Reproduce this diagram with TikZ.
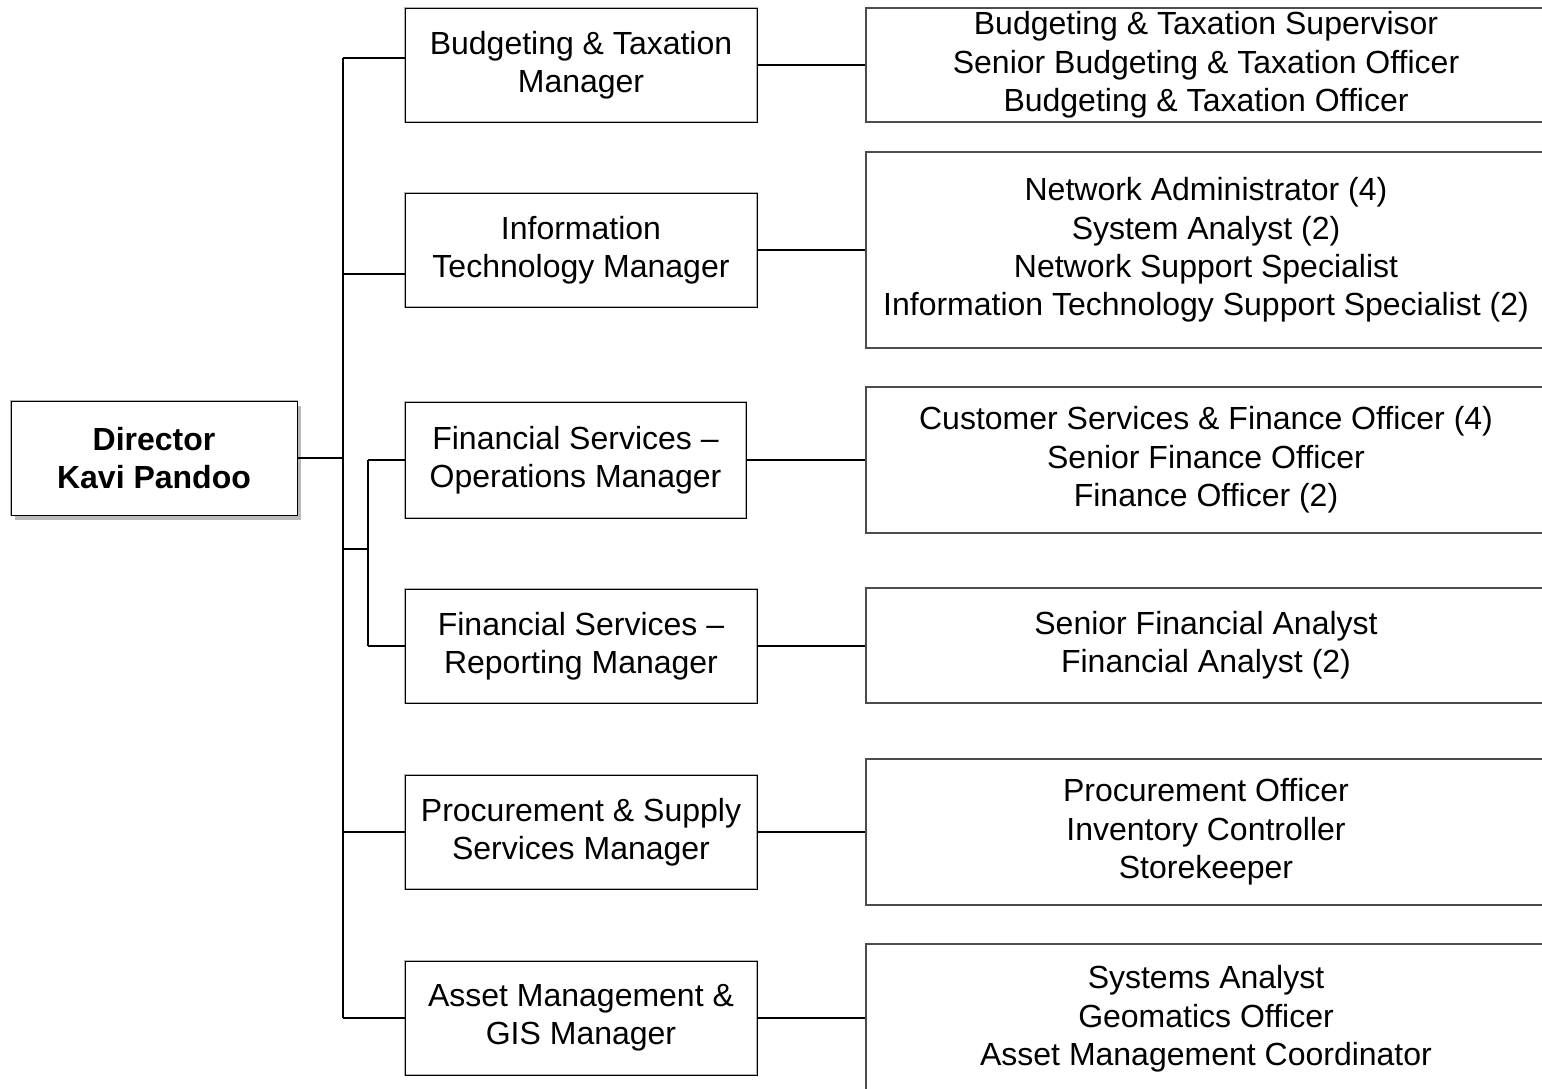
\documentclass[tikz,border=0pt]{standalone}
\usepackage{fontspec}
\setmainfont{Liberation Sans}
\usetikzlibrary{shadows}
\begin{document}
\begin{tikzpicture}[x=1pt,y=-1pt,
  every node/.style={font=\fontsize{32}{38.4}\selectfont, align=center, inner sep=0pt},
  mgr/.style={rectangle, minimum height=114pt,
    preaction={draw=gray!60, line width=2.6pt}, draw=black, line width=0.9pt},
  staff/.style={rectangle, draw=gray!60!black, line width=1.6pt,
    minimum width=680pt},
  boss/.style={rectangle, minimum width=286pt, minimum height=114pt, fill=white,
    preaction={draw=gray!60, line width=2.6pt}, draw=black, line width=0.9pt,
    drop shadow={shadow xshift=4pt, shadow yshift=-5pt, fill=black!60, opacity=0.45}},
  link/.style={draw=black, line width=1.3pt}]
\useasboundingbox (0,0) rectangle (1542,1088);
\clip (0,0) rectangle (1542,1088);

% director
\node[boss, font=\fontsize{32}{38.4}\selectfont\bfseries] (dir) at (154,458) {Director\\Kavi Pandoo};

% managers
\node[mgr, minimum width=352pt] (m1) at (581,65)  {Budgeting \& Taxation\\Manager};
\node[mgr, minimum width=352pt] (m2) at (581,250) {Information\\Technology Manager};
\node[mgr, minimum width=341pt, minimum height=116pt] (m3) at (575.5,460) {Financial Services --\\Operations Manager};
\node[mgr, minimum width=352pt] (m4) at (581,646) {Financial Services --\\Reporting Manager};
\node[mgr, minimum width=352pt] (m5) at (581,832) {Procurement \& Supply\\Services Manager};
\node[mgr, minimum width=352pt] (m6) at (581,1018) {Asset Management \&\\GIS Manager};

% staff lists
\node[staff, minimum height=114pt] (s1) at (1206,65) {Budgeting \& Taxation Supervisor\\Senior Budgeting \& Taxation Officer\\Budgeting \& Taxation Officer};
\node[staff, minimum height=196pt] (s2) at (1206,250) {Network Administrator (4)\\System Analyst (2)\\Network Support Specialist\\Information Technology Support Specialist (2)};
\node[staff, minimum height=146pt] (s3) at (1206,460) {Customer Services \& Finance Officer (4)\\Senior Finance Officer\\Finance Officer (2)};
\node[staff, minimum height=115pt] (s4) at (1206,645.5) {Senior Financial Analyst\\Financial Analyst (2)};
\node[staff, minimum height=146pt] (s5) at (1206,832) {Procurement Officer\\Inventory Controller\\Storekeeper};
\node[staff, minimum height=150pt] (s6) at (1206,1019) {Systems Analyst\\Geomatics Officer\\Asset Management Coordinator};

% trunk lines
\coordinate (tk) at (343,0);
\coordinate (sub) at (368,0);
\coordinate (m1in) at ([yshift=7pt]m1.west);
\coordinate (m2in) at ([yshift=-24pt]m2.west);
\coordinate (fork) at (343,549);

\draw[link] (dir.east) -- (dir.east -| tk);
\draw[link] (tk |- m1in) -- (tk |- m6.west);
\draw[link] (tk |- m1in) -- (m1in);
\draw[link] (tk |- m2in) -- (m2in);
\draw[link] (fork) -- (fork -| sub);
\draw[link] (sub |- m3.west) -- (sub |- m4.west);
\draw[link] (sub |- m3.west) -- (m3.west);
\draw[link] (sub |- m4.west) -- (m4.west);
\draw[link] (tk |- m5.west) -- (m5.west);
\draw[link] (tk |- m6.west) -- (m6.west);

% manager to staff
\draw[link] (m1.east) -- (m1.east -| s1.west);
\draw[link] (m2.east) -- (m2.east -| s2.west);
\draw[link] (m3.east) -- (m3.east -| s3.west);
\draw[link] (m4.east) -- (m4.east -| s4.west);
\draw[link] (m5.east) -- (m5.east -| s5.west);
\draw[link] (m6.east) -- (m6.east -| s6.west);
\end{tikzpicture}
\end{document}
